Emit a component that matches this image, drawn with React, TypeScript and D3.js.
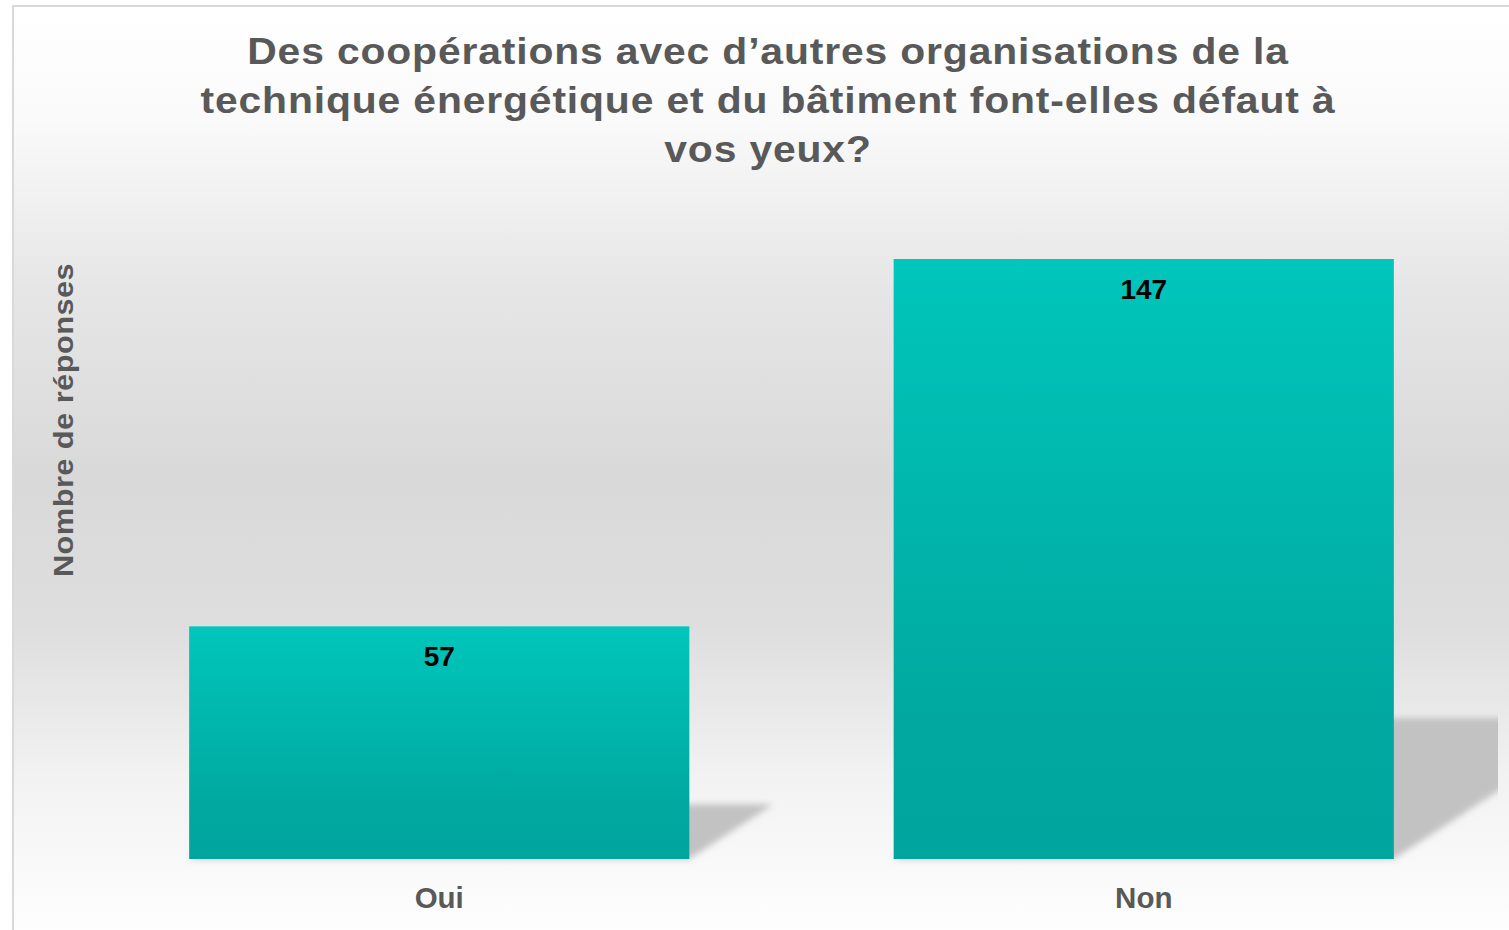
import React from "react";
import * as d3 from "d3";

const categories: string[] = ["Oui", "Non"];
const values: number[] = [57, 147];
const titleLines: string[] = [
  "Des coopérations avec d’autres organisations de la",
  "technique énergétique et du bâtiment font-elles défaut à",
  "vos yeux?",
];
const yAxisTitle = "Nombre de réponses";

const W = 1509;
const H = 930;
const plot = { left: 87, right: 1496, top: 259, bottom: 859 };
const FONT = '"Liberation Sans", Arial, sans-serif';

export default function App() {
  const x = d3
    .scaleBand<string>()
    .domain(categories)
    .range([plot.left, plot.right])
    .paddingInner(0.29)
    .paddingOuter(0.145);
  const y = d3
    .scaleLinear()
    .domain([0, d3.max(values) as number])
    .range([plot.bottom, plot.top]);

  const txt = { fontFamily: FONT, fontWeight: 700 as const };

  return (
    <svg
      width={W}
      height={H}
      style={{ position: "absolute", left: 0, top: 0, display: "block", fontFamily: FONT }}
    >
      <defs>
        <linearGradient id="bg" x1="0" y1="0" x2="0" y2="1">
          <stop offset="0" stopColor="#ffffff" />
          <stop offset="0.12" stopColor="#fafafa" />
          <stop offset="0.3" stopColor="#e6e6e6" />
          <stop offset="0.5" stopColor="#d9d9d9" />
          <stop offset="0.66" stopColor="#dedede" />
          <stop offset="0.82" stopColor="#f2f2f2" />
          <stop offset="1" stopColor="#ffffff" />
        </linearGradient>
        <linearGradient id="bar" x1="0" y1="0" x2="0" y2="1">
          <stop offset="0" stopColor="#00c6bb" />
          <stop offset="0.78" stopColor="#00a89f" />
          <stop offset="1" stopColor="#00a69d" />
        </linearGradient>
        <filter id="blur" x="-20%" y="-20%" width="140%" height="140%">
          <feGaussianBlur stdDeviation="3" />
        </filter>
        <clipPath id="plotclip">
          <rect x={0} y={0} width={1498} height={H} />
        </clipPath>
      </defs>

      <rect x={13} y={6} width={W + 10} height={H + 10} fill="url(#bg)" stroke="#d9d9d9" strokeWidth={2} />

      {titleLines.map((t, i) => (
        <text
          key={i}
          transform={`translate(768,${64 + i * 49}) scale(1.12,1)`}
          textAnchor="middle"
          fontSize={36.5}
          letterSpacing={0.75}
          fill="#595959"
          style={txt}
        >
          {t}
        </text>
      ))}

      <text
        transform={`translate(73,420) rotate(-90) scale(1.1,1)`}
        textAnchor="middle"
        fontSize={28}
        letterSpacing={0.4}
        fill="#595959"
        style={txt}
      >
        {yAxisTitle}
      </text>

      <g clipPath="url(#plotclip)">
        {categories.map((c, i) => {
          const x0 = x(c) as number;
          const x1 = x0 + x.bandwidth();
          const h = plot.bottom - y(values[i]);
          const sh = h * 0.235;
          const s = h * 0.36;
          const b = plot.bottom;
          const pts = [
            [x0 + s, b - sh],
            [x1 + s, b - sh],
            [x1, b],
            [x0, b],
          ];
          return (
            <polygon
              key={c}
              points={pts.map((p) => p.join(",")).join(" ")}
              fill="#c2c2c2"
              filter="url(#blur)"
            />
          );
        })}
      </g>

      {categories.map((c, i) => (
        <rect
          key={c}
          x={x(c)}
          y={y(values[i])}
          width={x.bandwidth()}
          height={plot.bottom - y(values[i])}
          fill="url(#bar)"
        />
      ))}

      {categories.map((c, i) => (
        <text
          key={c}
          x={(x(c) as number) + x.bandwidth() / 2}
          y={y(values[i]) + 40}
          textAnchor="middle"
          fontSize={28}
          fill="#000000"
          style={txt}
        >
          {values[i]}
        </text>
      ))}

      {categories.map((c) => (
        <text
          key={c}
          x={(x(c) as number) + x.bandwidth() / 2}
          y={908}
          textAnchor="middle"
          fontSize={29.5}
          fill="#595959"
          style={txt}
        >
          {c}
        </text>
      ))}
    </svg>
  );
}
